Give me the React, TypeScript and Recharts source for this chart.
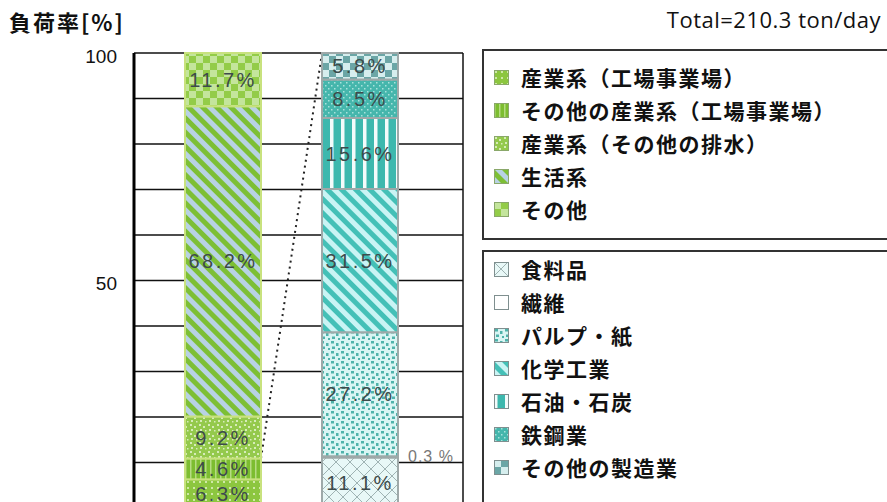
import { BarChart, Bar, XAxis, YAxis, CartesianGrid, LabelList } from "recharts";

// 発生源別の負荷率（左の棒）
const sourceNames = ["産業系（工場事業場）", "その他の産業系（工場事業場）", "産業系（その他の排水）", "生活系", "その他"];
const sourceShares = [6.3, 4.6, 9.2, 68.2, 11.7];

// 工場事業場の業種別内訳（右の棒）
const industryNames = ["食料品", "繊維", "パルプ・紙", "化学工業", "石油・石炭", "鉄鋼業", "その他の製造業"];
const industryShares = [11.1, 0.3, 27.2, 31.5, 15.6, 8.5, 5.8];

const barCategories = ["発生源別", "業種別"];
const yTicks = [0, 10, 20, 30, 40, 50, 60, 70, 80, 90, 100];
const yLabelTicks = [0, 50, 100];
const yTitle = "負荷率[%]";
const totalText = "Total=210.3 ton/day";

const W = 887;
const H = 530;
const PLOT_LEFT = 134;
const PLOT_RIGHT = 463;
const PLOT_TOP = 53;
const PLOT_BOTTOM = 508;
const PAD_L = 20;
const PAD_R = 35;
const BAR_SIZE = 76;
const BAND_PX = (PLOT_RIGHT - PLOT_LEFT - PAD_L - PAD_R) / 2;

const srcKeys = sourceNames.map((_, i) => `src${i}`);
const indKeys = industryNames.map((_, i) => `ind${i}`);

const rows = [
  { name: barCategories[0], ...Object.fromEntries(srcKeys.map((k, i) => [k, sourceShares[i]])) },
  { name: barCategories[1], ...Object.fromEntries(indKeys.map((k, i) => [k, industryShares[i]])) },
];

// 右の棒は左の棒の下から2区分を展開したもの
const EXPANDED = 1;
const expandedTop = sourceShares[0] + sourceShares[1];
const industryTotal = industryShares.reduce((s, v) => s + v, 0);

const pct = (v: any) => (v == null ? "" : `${v}%`);
const labelFont = '"Liberation Sans", Arial, sans-serif';

// 展開する区分の矩形に、右の棒の上端へ向かう点線を添えて描く
function ExpandedSegment(props: any) {
  const { x, y, width, height, fill, stroke, strokeWidth, payload } = props;
  const v = payload?.[srcKeys[EXPANDED]];
  if (!v || !height) return null;
  const pxPerUnit = height / v;
  const yRightTop = y - (industryTotal - expandedTop) * pxPerUnit;
  return (
    <g>
      <rect x={x} y={y} width={width} height={height} fill={fill} stroke={stroke} strokeWidth={strokeWidth} />
      <line
        x1={x + width}
        y1={y}
        x2={x + BAND_PX}
        y2={yRightTop}
        stroke="#222"
        strokeWidth={2}
        strokeDasharray="2 4"
      />
    </g>
  );
}

function Patterns() {
  return (
    <defs>
      {/* green family */}
      <pattern id="src0" width="6" height="6" patternUnits="userSpaceOnUse">
        <rect width="6" height="6" fill="#8cc63f" />
        <rect x="1" y="1" width="2" height="2" fill="#cfe8a8" />
      </pattern>
      <pattern id="src1" width="5" height="5" patternUnits="userSpaceOnUse">
        <rect width="5" height="5" fill="#7cbd30" />
        <rect x="0" y="0" width="1.5" height="5" fill="#b5dc82" />
      </pattern>
      <pattern id="src2" width="9" height="9" patternUnits="userSpaceOnUse">
        <rect width="9" height="9" fill="#94c94c" />
        <rect x="1" y="1" width="2" height="2" fill="#d6ecb8" />
        <rect x="5" y="3" width="2" height="2" fill="#d6ecb8" />
        <rect x="2" y="6" width="2" height="2" fill="#d6ecb8" />
        <rect x="7" y="7" width="1.5" height="1.5" fill="#d6ecb8" />
      </pattern>
      <pattern id="src3" width="10" height="10" patternUnits="userSpaceOnUse" patternTransform="rotate(-45)">
        <rect width="10" height="10" fill="#7dbf35" />
        <rect x="0" y="0" width="5" height="10" fill="#b8d2e4" />
      </pattern>
      <pattern id="src4" width="14" height="14" patternUnits="userSpaceOnUse">
        <rect width="14" height="14" fill="#93cc48" />
        <rect x="0" y="0" width="7" height="7" fill="#c4e59c" />
        <rect x="7" y="7" width="7" height="7" fill="#c4e59c" />
      </pattern>
      {/* teal family */}
      <pattern id="ind0" width="14" height="14" patternUnits="userSpaceOnUse">
        <rect width="14" height="14" fill="#e8f8f7" />
        <path d="M0 0 L14 14 M14 0 L0 14" stroke="#9fb3b3" strokeWidth="1" />
      </pattern>
      <pattern id="ind1" width="4" height="4" patternUnits="userSpaceOnUse">
        <rect width="4" height="4" fill="#ffffff" />
      </pattern>
      <pattern id="ind2" width="10" height="10" patternUnits="userSpaceOnUse">
        <rect width="10" height="10" fill="#d9f5f4" />
        <rect x="1" y="1" width="3" height="2.5" fill="#4fb3ab" />
        <rect x="6" y="3" width="2.5" height="3" fill="#4fb3ab" />
        <rect x="2" y="6.5" width="3" height="2.5" fill="#4fb3ab" />
        <rect x="8" y="8" width="2" height="2" fill="#4fb3ab" />
      </pattern>
      <pattern id="ind3" width="10" height="10" patternUnits="userSpaceOnUse" patternTransform="rotate(-45)">
        <rect width="10" height="10" fill="#44c0b7" />
        <rect x="0" y="0" width="5" height="10" fill="#c9f4f4" />
      </pattern>
      <pattern id="ind4" width="11" height="11" patternUnits="userSpaceOnUse">
        <rect width="11" height="11" fill="#3db8ae" />
        <rect x="0" y="0" width="3.5" height="11" fill="#f4fbfb" />
      </pattern>
      <pattern id="ind5" width="6" height="6" patternUnits="userSpaceOnUse">
        <rect width="6" height="6" fill="#45b6ac" />
        <rect x="1" y="1" width="1.5" height="1.5" fill="#a9e2dc" />
        <rect x="4" y="4" width="1.5" height="1.5" fill="#a9e2dc" />
      </pattern>
      <pattern id="ind6" width="14" height="14" patternUnits="userSpaceOnUse">
        <rect width="14" height="14" fill="#6ba6a6" />
        <rect x="0" y="0" width="7" height="7" fill="#d6eeee" />
        <rect x="7" y="7" width="7" height="7" fill="#d6eeee" />
      </pattern>
    </defs>
  );
}

const legendText = {
  fontFamily: '"Noto Sans CJK JP", sans-serif',
  fontSize: 21,
  fontWeight: 700,
  letterSpacing: 1.5,
  color: "#111",
};

function LegendBox({ names, ids, top, height, padTop, iconStroke }: any) {
  return (
    <div
      style={{
        position: "absolute",
        left: 482,
        top,
        width: 420,
        height,
        border: "2px solid #333",
        boxSizing: "border-box",
        paddingTop: padTop,
        background: "#fff",
      }}
    >
      {names.map((n: string, i: number) => (
        <div key={n} style={{ display: "flex", alignItems: "center", height: 33, paddingLeft: 10 }}>
          <svg width={15} height={15} style={{ marginRight: 12, flexShrink: 0 }}>
            <rect x={0.5} y={0.5} width={14} height={14} fill={`url(#${ids[i]})`} stroke={iconStroke} strokeWidth={1} />
          </svg>
          <span style={{ ...legendText, lineHeight: "33px", whiteSpace: "nowrap" }}>{n}</span>
        </div>
      ))}
    </div>
  );
}

export default function App() {
  return (
    <div style={{ position: "absolute", left: 0, top: 0, width: W, height: 502, overflow: "hidden", background: "#fff" }}>
      <BarChart
        width={W}
        height={H}
        data={rows}
        barSize={BAR_SIZE}
        margin={{ top: PLOT_TOP, right: W - PLOT_RIGHT, bottom: H - PLOT_BOTTOM, left: 0 }}
      >
        <Patterns />
        <CartesianGrid
          stroke="#111"
          strokeWidth={1.5}
          horizontal
          vertical
          verticalCoordinatesGenerator={({ offset }: any) => [offset.left + offset.width]}
        />
        <XAxis dataKey="name" hide padding={{ left: PAD_L, right: PAD_R }} />
        <YAxis
          width={PLOT_LEFT}
          domain={[0, 100]}
          ticks={yTicks}
          interval={0}
          tickFormatter={(v: number) => (yLabelTicks.includes(v) ? String(v) : "")}
          tickLine={false}
          tickSize={0}
          tickMargin={17}
          axisLine={{ stroke: "#000", strokeWidth: 3 }}
          tick={{ fontSize: 19, fill: "#111", fontFamily: labelFont, dy: 3 }}
        />
        {srcKeys.map((k, i) => (
          <Bar
            key={k}
            dataKey={k}
            stackId="a"
            fill={`url(#${k})`}
            stroke="#c8e27e"
            strokeWidth={2}
            isAnimationActive={false}
            shape={i === EXPANDED ? ExpandedSegment : undefined}
          >
            <LabelList
              dataKey={k}
              position="center"
              formatter={pct}
              fill="#3d4b4b"
              fontSize={20}
              letterSpacing={2.5}
              fontFamily={labelFont}
            />
          </Bar>
        ))}
        {indKeys.map((k, i) => (
          <Bar key={k} dataKey={k} stackId="a" fill={`url(#${k})`} stroke="#9ea9a9" strokeWidth={2} isAnimationActive={false}>
            <LabelList
              dataKey={k}
              position={industryShares[i] < 1 ? "right" : "center"}
              offset={10}
              formatter={industryShares[i] < 1 ? (v: any) => (v == null ? "" : `${v} %`) : pct}
              fill={industryShares[i] < 1 ? "#777" : "#3d4b4b"}
              fontSize={industryShares[i] < 1 ? 16 : 20}
              letterSpacing={industryShares[i] < 1 ? 1 : 2.5}
              fontFamily={labelFont}
            />
          </Bar>
        ))}
      </BarChart>
      <div
        style={{
          position: "absolute",
          left: 9,
          top: 7,
          fontFamily: '"Noto Sans CJK JP", sans-serif',
          fontSize: 22,
          fontWeight: 700,
          letterSpacing: 2,
          color: "#111",
          lineHeight: "28px",
        }}
      >
        {yTitle}
      </div>
      <div
        style={{
          position: "absolute",
          right: 6,
          top: 5,
          fontFamily: '"Open Sans", sans-serif',
          fontSize: 22,
          letterSpacing: 0.5,
          color: "#111",
          lineHeight: "28px",
        }}
      >
        {totalText}
      </div>
      <LegendBox names={sourceNames} ids={srcKeys} top={49} height={191} padTop={10} iconStroke="#8aa86a" />
      <LegendBox names={industryNames} ids={indKeys} top={250} height={300} padTop={1} iconStroke="#7f8f8f" />
    </div>
  );
}
